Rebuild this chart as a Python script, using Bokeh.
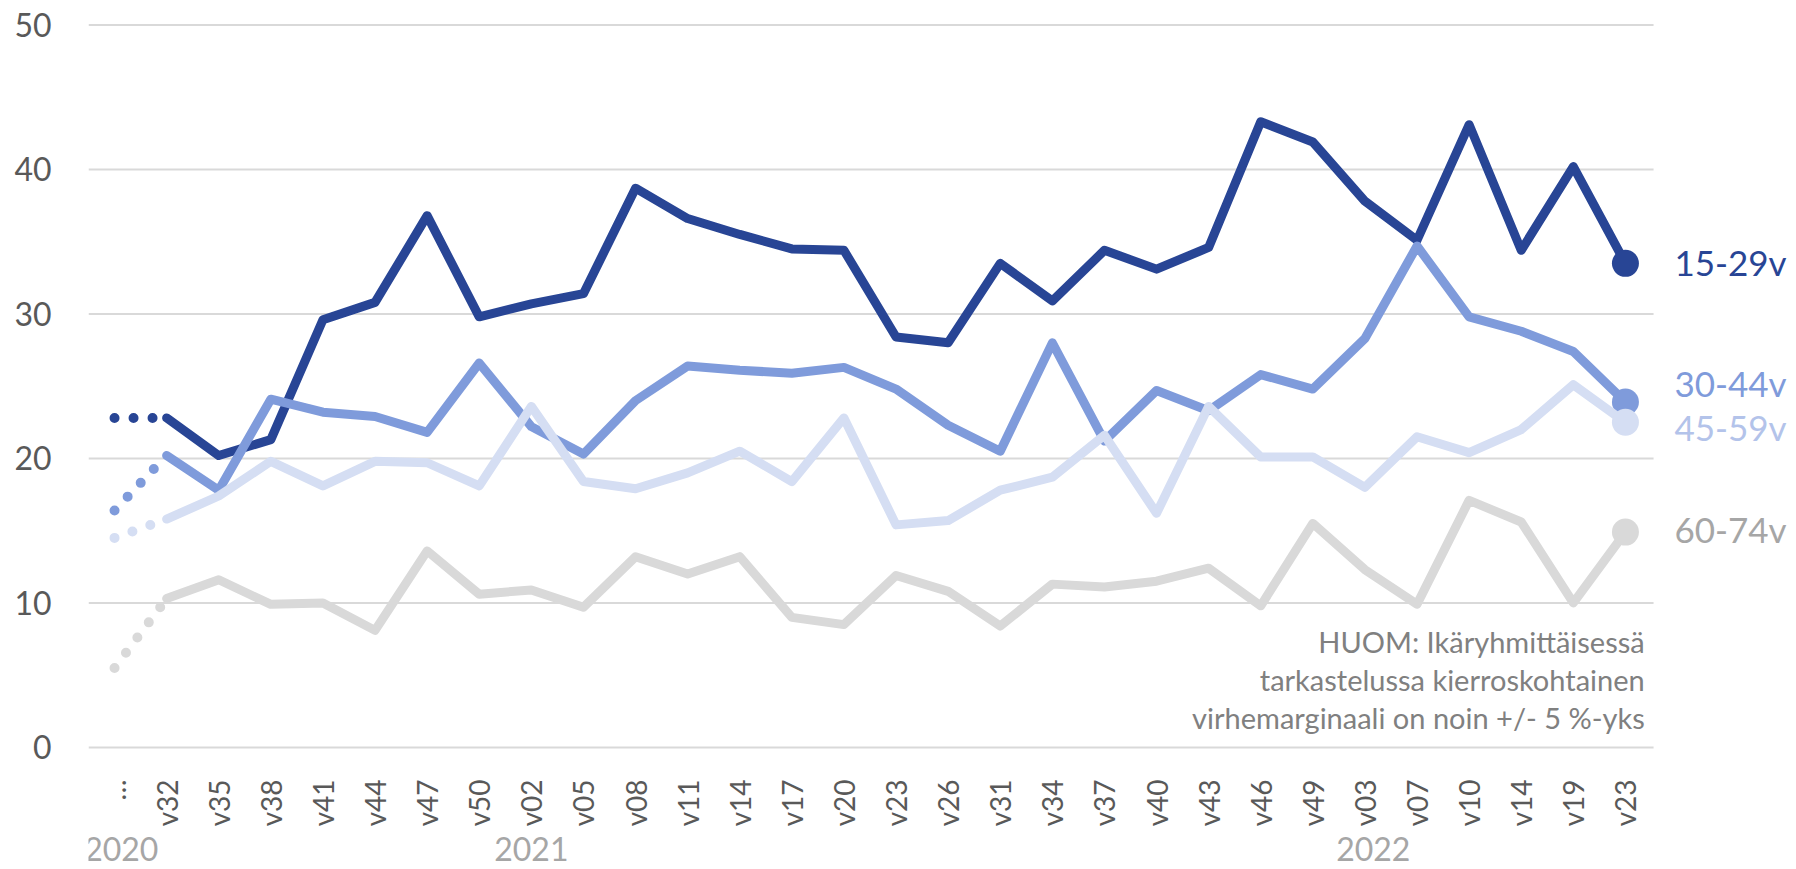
import math
from bokeh.plotting import figure
from bokeh.models import Range1d, FixedTicker, LinearAxis, ColumnDataSource
from bokeh.core.properties import value
from bokeh.embed import file_html
from bokeh.resources import INLINE

# ---- data ----
weeks = ["\u2026", "v32", "v35", "v38", "v41", "v44", "v47", "v50", "v02", "v05",
         "v08", "v11", "v14", "v17", "v20", "v23", "v26", "v31", "v34", "v37",
         "v40", "v43", "v46", "v49", "v03", "v07", "v10", "v14", "v19", "v23"]
years = ["2020", "2021", "2022"]
year_pos = [0.13, 8.0, 24.16]
y_ticks = [0, 10, 20, 30, 40, 50]

age_15_29 = [22.8, 22.8, 20.2, 21.3, 29.6, 30.8, 36.8, 29.8, 30.7, 31.4,
             38.7, 36.6, 35.5, 34.5, 34.4, 28.4, 28.0, 33.5, 30.9, 34.4,
             33.1, 34.6, 43.3, 41.9, 37.8, 35.1, 43.1, 34.4, 40.2, 33.5]
age_30_44 = [16.4, 20.2, 17.8, 24.1, 23.2, 22.9, 21.8, 26.6, 22.2, 20.3,
             24.0, 26.4, 26.1, 25.9, 26.3, 24.8, 22.3, 20.5, 28.0, 21.2,
             24.7, 23.3, 25.8, 24.8, 28.3, 34.7, 29.8, 28.8, 27.4, 23.9]
age_45_59 = [14.5, 15.8, 17.4, 19.8, 18.1, 19.8, 19.7, 18.1, 23.6, 18.4,
             17.9, 19.0, 20.5, 18.4, 22.8, 15.4, 15.7, 17.8, 18.7, 21.6,
             16.2, 23.6, 20.1, 20.1, 18.0, 21.5, 20.4, 22.0, 25.1, 22.5]
age_60_74 = [5.5, 10.3, 11.6, 9.9, 10.0, 8.1, 13.6, 10.6, 10.9, 9.7,
             13.2, 12.0, 13.2, 9.0, 8.5, 11.9, 10.8, 8.4, 11.3, 11.1,
             11.5, 12.4, 9.8, 15.5, 12.3, 9.9, 17.1, 15.6, 10.0, 14.9]

series_names = ["15-29v", "30-44v", "45-59v", "60-74v"]
series_values = [age_15_29, age_30_44, age_45_59, age_60_74]
line_colors = ["#284595", "#7f9bdb", "#d5def3", "#d9d9d9"]
label_colors = ["#284595", "#7f9bdb", "#b3c3ea", "#a6a6a6"]
label_y = [33.6, 25.2, 22.2, 15.1]

note_lines = ["HUOM: Ikäryhmittäisessä",
              "tarkastelussa kierroskohtainen",
              "virhemarginaali on noin +/- 5 %-yks"]
note_y = [7.36, 4.72, 2.08]

FONT = "Lato"
GRID_X0, GRID_X1 = -0.5, 29.54   # extent of the plotting area in category units

p = figure(width=1792, height=869, output_backend="svg", toolbar_location=None,
           x_range=Range1d(-0.5, 32.13), y_range=Range1d(-8.45, 50.1),
           min_border_left=88, min_border_right=4, min_border_top=23,
           min_border_bottom=0)
p.outline_line_color = None
p.background_fill_color = "white"
p.border_fill_color = "white"

# week axis, drawn at y = 0
xs = list(range(len(weeks)))
p.xaxis.fixed_location = 0
p.xaxis.ticker = FixedTicker(ticks=xs)
p.xaxis.major_label_overrides = {i: w for i, w in zip(xs, weeks)}
p.xaxis.major_label_orientation = math.pi / 2
p.xaxis.axis_line_color = None
p.xaxis.major_tick_line_color = None
p.xaxis.minor_tick_line_color = None
p.xaxis.major_label_standoff = 26
p.xaxis.major_label_text_font = FONT
p.xaxis.major_label_text_font_size = "28px"
p.xaxis.major_label_text_color = "#595959"

# year axis, below the week labels
year_axis = LinearAxis(ticker=FixedTicker(ticks=year_pos), fixed_location=0,
                       major_label_overrides={yp: yr for yp, yr in zip(year_pos, years)},
                       axis_line_color=None, major_tick_line_color=None,
                       minor_tick_line_color=None, major_label_standoff=84,
                       major_label_text_font=FONT, major_label_text_font_size="32px",
                       major_label_text_color="#a6a6a6")
p.add_layout(year_axis, "below")

p.yaxis.ticker = FixedTicker(ticks=y_ticks)
p.yaxis.axis_line_color = None
p.yaxis.major_tick_line_color = None
p.yaxis.minor_tick_line_color = None
p.yaxis.major_label_standoff = 31
p.yaxis.major_label_text_font = FONT
p.yaxis.major_label_text_font_size = "32px"
p.yaxis.major_label_text_color = "#595959"

p.xgrid.visible = False
p.ygrid.visible = False
# horizontal gridlines limited to the plotting area
p.segment(x0=[GRID_X0] * len(y_ticks), x1=[GRID_X1] * len(y_ticks),
          y0=y_ticks, y1=y_ticks, line_color="#d9d9d9", line_width=2)

# lines
for name, vals, col in zip(series_names, series_values, line_colors):
    p.line(x=xs[0:2], y=vals[0:2], line_color=col, line_width=10,
           line_dash="0 19", line_cap="round")
    p.line(x=xs[1:], y=vals[1:], line_color=col, line_width=9,
           line_cap="round", line_join="round")
    p.scatter(x=[xs[-1]], y=[vals[-1]], size=27, marker="circle",
              fill_color=col, line_color=None)

# series labels at right
lab_src = ColumnDataSource(dict(x=[29.94] * 4, y=label_y, t=series_names, c=label_colors))
p.text(x="x", y="y", text="t", text_color="c", source=lab_src, text_align="left",
       text_baseline="middle", text_font=value(FONT), text_font_size=value("35px"))

# note
note_src = ColumnDataSource(dict(x=[29.37] * 3, y=note_y, t=note_lines))
p.text(x="x", y="y", text="t", source=note_src, text_align="right",
       text_baseline="middle", text_font=value(FONT),
       text_font_size=value("29px"), text_color="#808080")

open("out.html", "w").write(file_html(p, INLINE))
